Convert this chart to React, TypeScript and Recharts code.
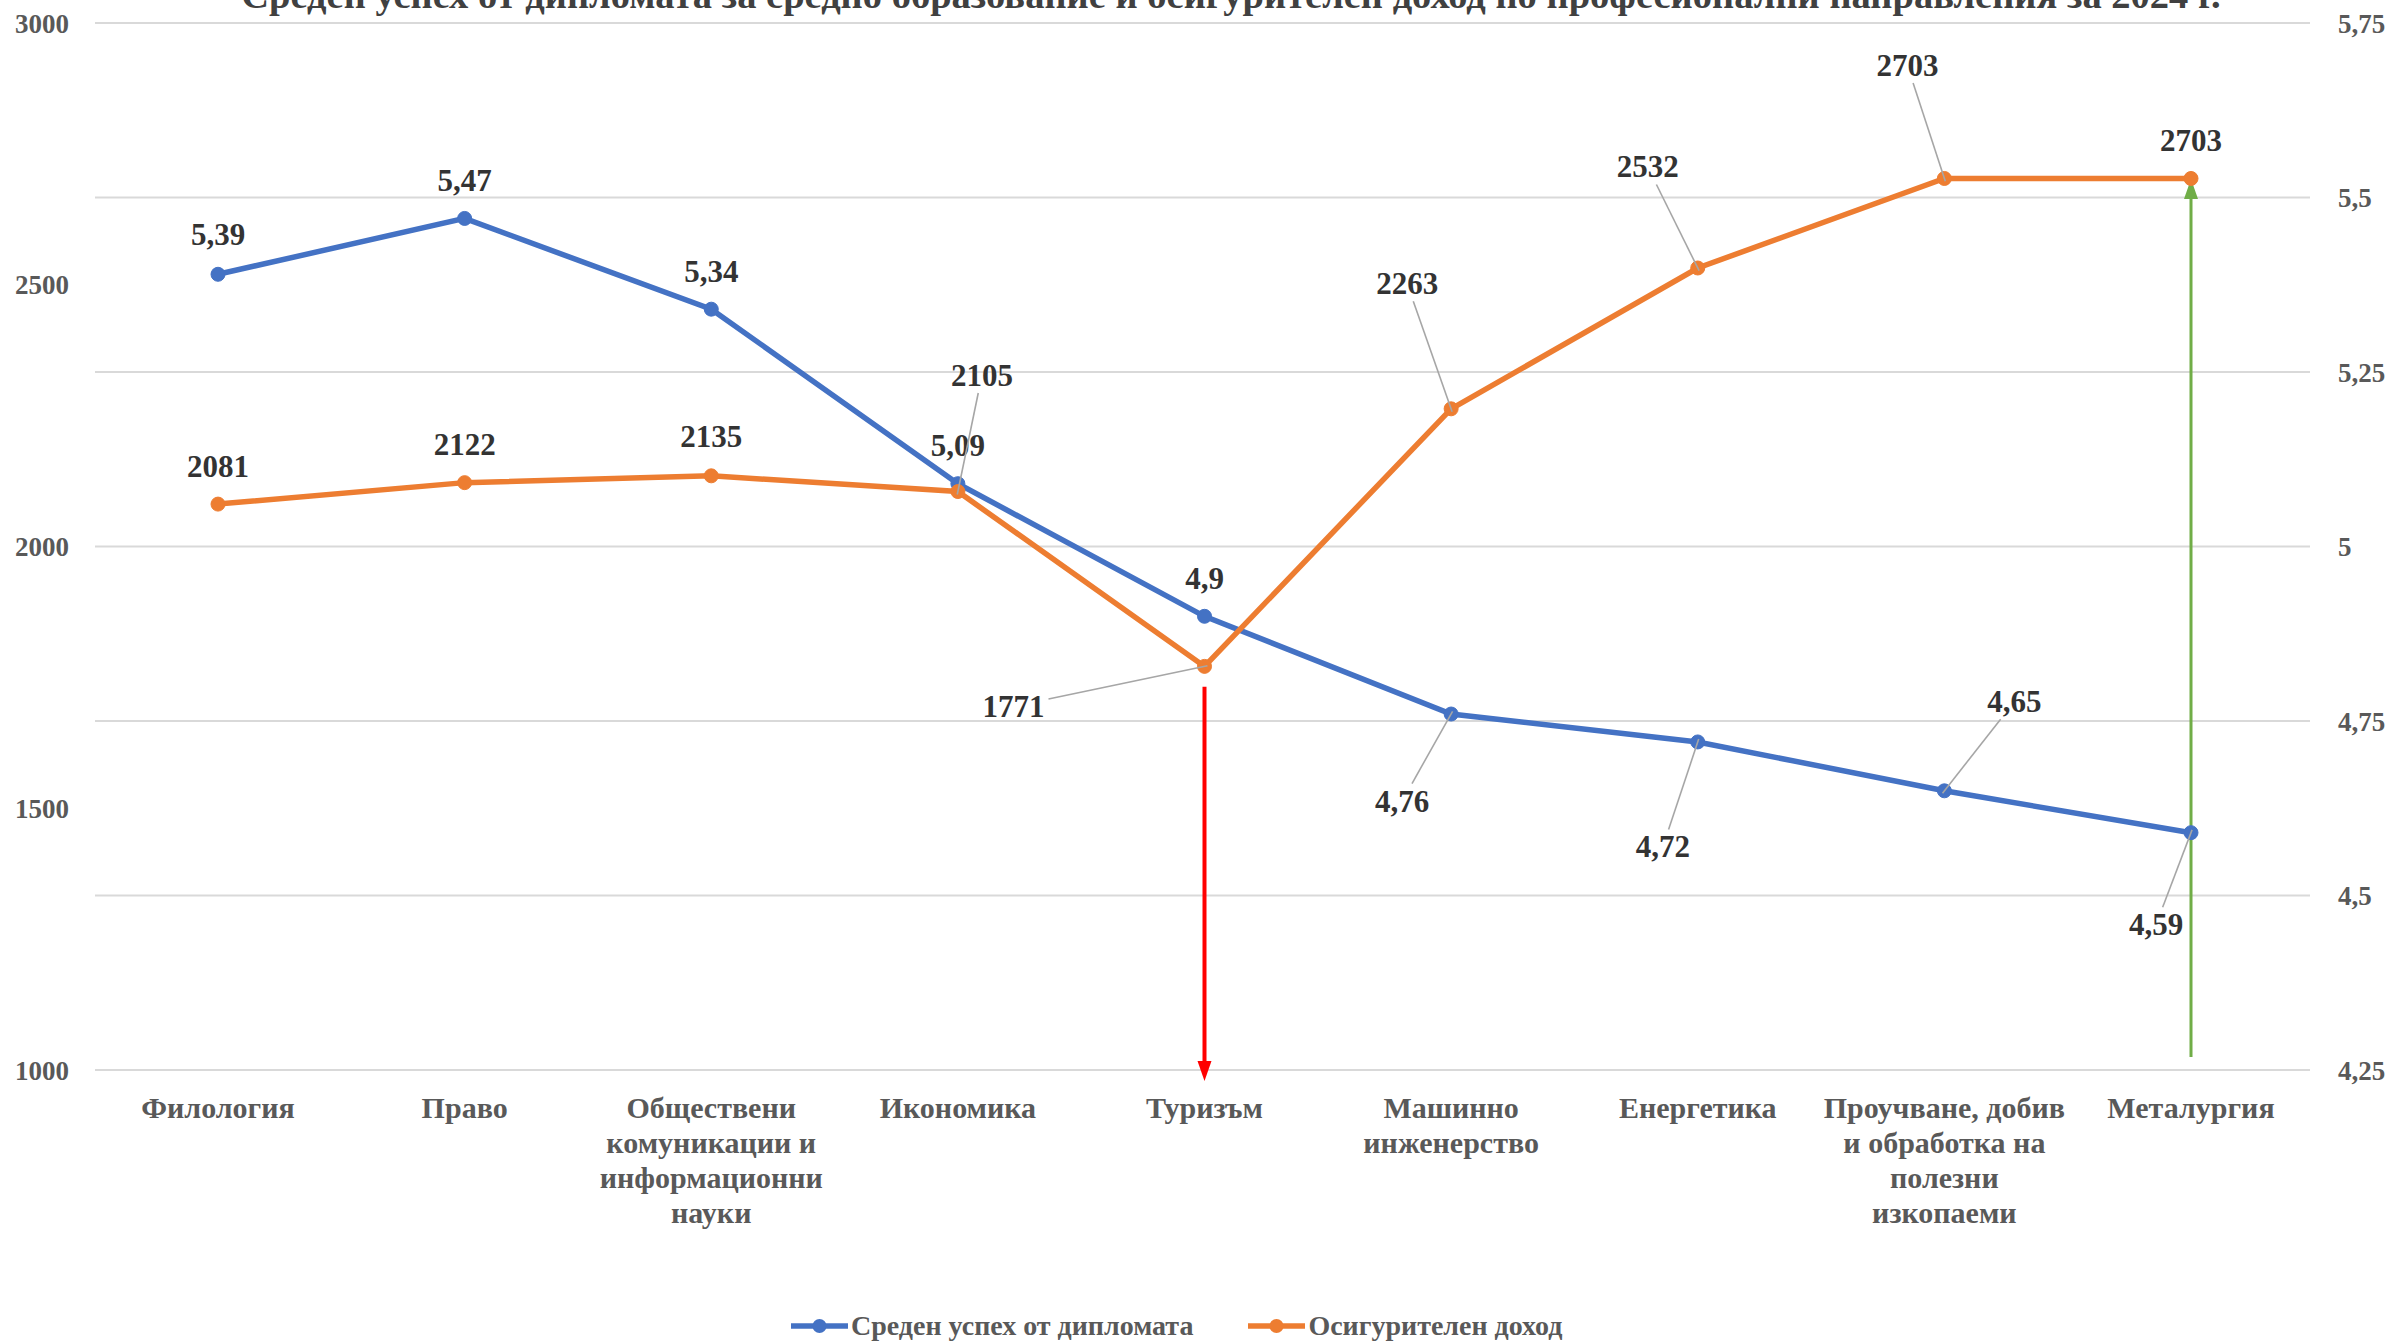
import React from 'react';
import {
  LineChart,
  Line,
  XAxis,
  YAxis,
  CartesianGrid,
  Legend,
  ReferenceLine,
} from 'recharts';

const categories = [
  'Филология',
  'Право',
  'Обществени\nкомуникации и\nинформационни\nнауки',
  'Икономика',
  'Туризъм',
  'Машинно\nинженерство',
  'Енергетика',
  'Проучване, добив\nи обработка на\nполезни\nизкопаеми',
  'Металургия',
];
const avgGrade = [5.39, 5.47, 5.34, 5.09, 4.9, 4.76, 4.72, 4.65, 4.59];
const income = [2081, 2122, 2135, 2105, 1771, 2263, 2532, 2703, 2703];
const leftTicks = [1000, 1500, 2000, 2500, 3000];
const rightTicks = [4.25, 4.5, 4.75, 5, 5.25, 5.5, 5.75];
const seriesNames = ['Среден успех от дипломата', 'Осигурителен доход'];
const title =
  'Среден успех от дипломата за средно образование и осигурителен доход по професионални направления за 2024 г.';

// label placement offsets (px) relative to each point
const gradeLabelOffsets = [
  [0, -40], [0, -38], [0, -38], [0, -38], [0, -38], [-49, 87], [-35, 105], [70, -89], [-35, 92],
];
const incomeLabelOffsets = [
  [0, -38], [0, -38], [0, -39], [24, -116], [-191, 40], [-44, -125], [-50, -101], [-37, -113], [0, -38],
];

const data = categories.map((c, i) => ({ category: c, grade: avgGrade[i], income: income[i] }));

const FONT = '"Liberation Serif", "Times New Roman", serif';
const BLUE = '#4472C4';
const ORANGE = '#ED7D31';
const AXIS_TEXT = '#595959';
const LABEL_TEXT = '#333333';
const LABEL_SIZE = 31;

const fmtComma = (v: number) => String(v).replace('.', ',');

const makeLabel = (offsets: number[][], fmt: (v: number) => string) => (props: any) => {
  const { x, y, index, value } = props;
  if (x == null || y == null) return null;
  const [dx, dy] = offsets[index] || [0, -38];
  const lx = x + dx;
  const ly = y + dy;
  const txt = fmt(value);
  const dist = Math.sqrt(dx * dx + dy * dy);
  let leader = null;
  if (dist > 60) {
    const hw = (txt.length * 0.5 * LABEL_SIZE) / 2 + 4;
    const hh = LABEL_SIZE / 2 + 2;
    const tx = dx !== 0 ? hw / Math.abs(dx) : Infinity;
    const ty = dy !== 0 ? hh / Math.abs(dy) : Infinity;
    const t = Math.min(tx, ty);
    const sx = lx - dx * t;
    const sy = ly - dy * t;
    const ex = x - (dx / dist) * 3;
    const ey = y - (dy / dist) * 3;
    leader = <line x1={sx} y1={sy} x2={ex} y2={ey} stroke="#a6a6a6" strokeWidth={1.6} />;
  }
  return (
    <g key={`lbl-${index}`}>
      {leader}
      <text
        x={lx}
        y={ly}
        textAnchor="middle"
        dominantBaseline="central"
        fontFamily={FONT}
        fontWeight="bold"
        fontSize={LABEL_SIZE}
        fill={LABEL_TEXT}
      >
        {txt}
      </text>
    </g>
  );
};

const CategoryTick = (props: any) => {
  const { x, y, payload } = props;
  const lines = String(payload.value).split('\n');
  return (
    <text
      x={x}
      y={y}
      textAnchor="middle"
      fontFamily={FONT}
      fontWeight="bold"
      fontSize={30}
      fill={AXIS_TEXT}
    >
      {lines.map((l, i) => (
        <tspan key={i} x={x} dy={i === 0 ? 48 : 35}>
          {l}
        </tspan>
      ))}
    </text>
  );
};

const arrowShape = (color: string, width: number) => (p: any) => {
  const { x1, y1, x2, y2 } = p;
  if ([x1, y1, x2, y2].some((v) => v == null || isNaN(v))) return null;
  const ang = Math.atan2(y2 - y1, x2 - x1);
  const L = 20;
  const W = 7;
  const bx = x2 - L * Math.cos(ang);
  const by = y2 - L * Math.sin(ang);
  const px = -Math.sin(ang);
  const py = Math.cos(ang);
  return (
    <g>
      <line x1={x1} y1={y1} x2={bx} y2={by} stroke={color} strokeWidth={width} />
      <polygon
        points={`${x2},${y2} ${bx + px * W},${by + py * W} ${bx - px * W},${by - py * W}`}
        fill={color}
      />
    </g>
  );
};

const LegendContent = () => {
  const items = [
    { name: seriesNames[0], color: BLUE },
    { name: seriesNames[1], color: ORANGE },
  ];
  return (
    <div style={{ display: 'flex', alignItems: 'center', gap: 55, whiteSpace: 'nowrap' }}>
      {items.map((it) => (
        <div key={it.name} style={{ display: 'flex', alignItems: 'center' }}>
          <svg width={57} height={20} style={{ marginRight: 3 }}>
            <line x1={0} y1={10} x2={57} y2={10} stroke={it.color} strokeWidth={5.5} />
            <circle cx={28.5} cy={10} r={7} fill={it.color} />
          </svg>
          <span
            style={{
              fontFamily: FONT,
              fontWeight: 'bold',
              fontSize: 28,
              color: AXIS_TEXT,
              lineHeight: '34px',
            }}
          >
            {it.name}
          </span>
        </div>
      ))}
    </div>
  );
};

export default function App() {
  return (
    <div
      style={{
        position: 'absolute',
        left: 0,
        top: 0,
        width: 2395,
        height: 1343,
        overflow: 'hidden',
        background: '#ffffff',
      }}
    >
      <div
        style={{
          position: 'absolute',
          top: -24,
          left: 1231,
          transform: 'translateX(-50%)',
          whiteSpace: 'nowrap',
          fontFamily: FONT,
          fontWeight: 'bold',
          fontSize: 38.5,
          lineHeight: '38px',
          color: '#404040',
        }}
      >
        {title}
      </div>
      <LineChart
        width={2395}
        height={1343}
        data={data}
        margin={{ top: 23, right: 0, bottom: 0, left: 0 }}
      >
        <CartesianGrid
          yAxisId="right"
          vertical={false}
          stroke="#d9d9d9"
          strokeWidth={2}
        />
        <XAxis
          dataKey="category"
          interval={0}
          height={273}
          padding={{ left: 123, right: 119 }}
          axisLine={false}
          tickLine={false}
          tickSize={0}
          tickMargin={0}
          tick={<CategoryTick />}
        />
        <YAxis
          yAxisId="left"
          orientation="left"
          width={95}
          domain={[1000, 3000]}
          ticks={leftTicks}
          axisLine={false}
          tickLine={false}
          tickSize={0}
          tickMargin={26}
          tick={{ fontFamily: FONT, fontWeight: 'bold', fontSize: 27, fill: AXIS_TEXT }}
        />
        <YAxis
          yAxisId="right"
          orientation="right"
          width={85}
          domain={[4.25, 5.75]}
          ticks={rightTicks}
          tickFormatter={(v: number) => fmtComma(v)}
          axisLine={false}
          tickLine={false}
          tickSize={0}
          tickMargin={28}
          tick={{ fontFamily: FONT, fontWeight: 'bold', fontSize: 27, fill: AXIS_TEXT, textAnchor: 'start' }}
        />
        <Legend
          verticalAlign="bottom"
          content={<LegendContent />}
          wrapperStyle={{ position: 'absolute', top: 1309, left: 791, width: 1100, height: 0 }}
        />
        <Line
          yAxisId="right"
          dataKey="grade"
          name={seriesNames[0]}
          stroke={BLUE}
          strokeWidth={5.5}
          dot={{ r: 7, fill: BLUE, stroke: BLUE, strokeWidth: 1 }}
          activeDot={false}
          isAnimationActive={false}
          label={makeLabel(gradeLabelOffsets, fmtComma)}
        />
        <Line
          yAxisId="left"
          dataKey="income"
          name={seriesNames[1]}
          stroke={ORANGE}
          strokeWidth={5.5}
          dot={{ r: 7, fill: ORANGE, stroke: ORANGE, strokeWidth: 1 }}
          activeDot={false}
          isAnimationActive={false}
          label={makeLabel(incomeLabelOffsets, (v) => String(v))}
        />
        <ReferenceLine
          yAxisId="left"
          segment={[
            { x: categories[4], y: 1732 },
            { x: categories[4], y: 979 },
          ]}
          ifOverflow="visible"
          shape={arrowShape('#FF0000', 4)}
        />
        <ReferenceLine
          yAxisId="left"
          segment={[
            { x: categories[8], y: 1025 },
            { x: categories[8], y: 2702 },
          ]}
          ifOverflow="visible"
          shape={arrowShape('#70AD47', 3)}
        />
      </LineChart>
    </div>
  );
}
